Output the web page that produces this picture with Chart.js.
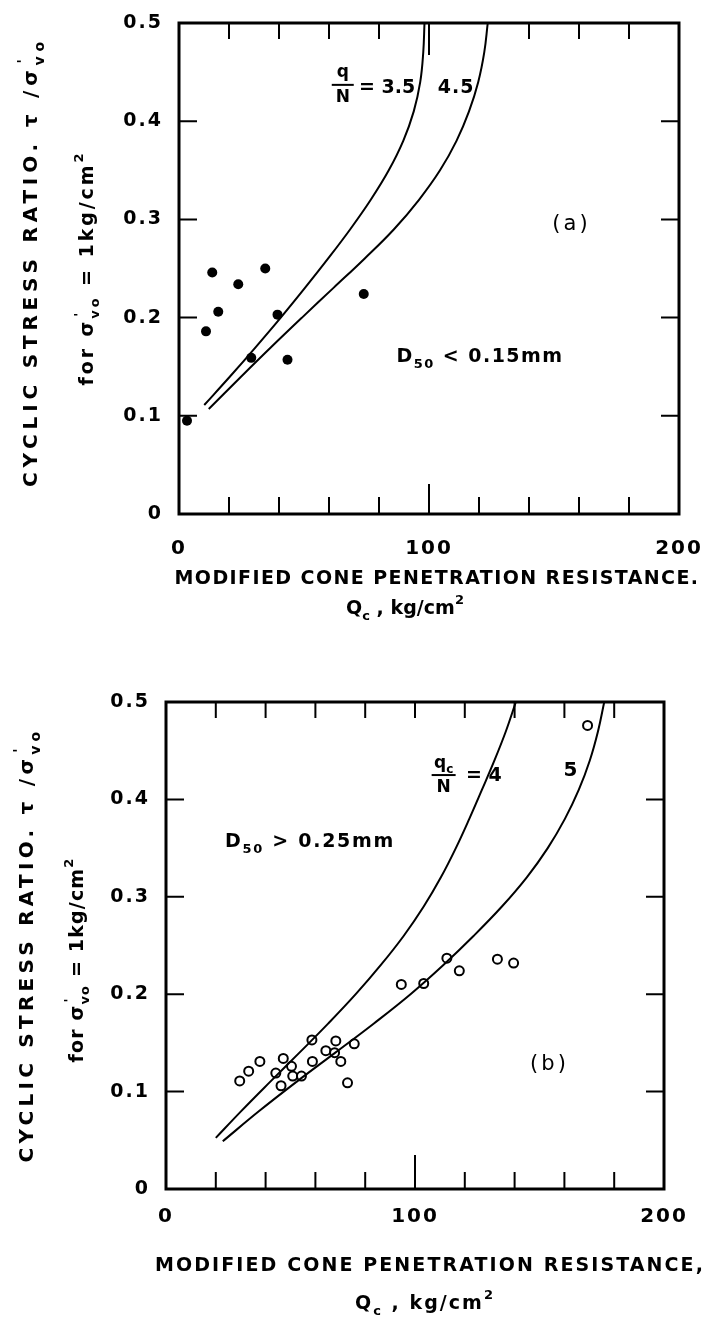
<!DOCTYPE html>
<html>
<head>
<meta charset="utf-8">
<title>Cyclic stress ratio vs modified cone resistance</title>
<script src="https://cdn.jsdelivr.net/npm/chart.js@4.4.1/dist/chart.umd.min.js"></script>
<style>
  html, body { margin: 0; padding: 0; background: #fff; }
  #wrap { position: relative; width: 718px; height: 1319px; overflow: hidden; }
  canvas { position: absolute; left: 0; }
  #chart-a { top: 0; }
  #chart-b { top: 640px; }
</style>
</head>
<body>
<div id="wrap">
  <canvas id="chart-a" width="718" height="640"></canvas>
  <canvas id="chart-b" width="718" height="679"></canvas>
</div>
<script>
// (a) silty sands, D50 < 0.15mm  -- q/N = 3.5 and 4.5 bounds, filled dots
const aCurve35X = [10.1, 20.4, 30.7, 40.7, 50.3, 59.6, 68.5, 76.7, 83.9, 89.7, 93.9, 96.5, 97.7, 98.2];
const aCurve35Y = [0.111, 0.14, 0.17, 0.2, 0.23, 0.26, 0.29, 0.32, 0.35, 0.38, 0.41, 0.44, 0.47, 0.5];
const aCurve45X = [11.9, 24.9, 36.9, 49.2, 61.7, 74.2, 86.0, 96.0, 104.4, 111.0, 116.0, 119.7, 122.1, 123.5];
const aCurve45Y = [0.107, 0.14, 0.17, 0.2, 0.23, 0.26, 0.29, 0.32, 0.35, 0.38, 0.41, 0.44, 0.47, 0.5];
const aDotX = [3.2, 10.8, 13.3, 15.7, 23.7, 28.9, 34.5, 39.4, 43.4, 73.9];
const aDotY = [0.095, 0.186, 0.246, 0.206, 0.234, 0.159, 0.25, 0.203, 0.157, 0.224];

// (b) clean sands, D50 > 0.25mm  -- qc/N = 4 and 5 bounds, open circles
const bCurveY = [0.08, 0.11, 0.14, 0.17, 0.2, 0.23, 0.26, 0.29, 0.32, 0.35, 0.38, 0.41, 0.44, 0.47, 0.5];
const bCurve4X = [20, 30.2, 41.8, 53.6, 65.2, 76.2, 86.3, 95.5, 103.5, 110.4, 116.4, 121.8, 126.9, 131.9, 136.5, 140.5];
const bCurve4Y = [0.0525, ...bCurveY];
const bCurve5X = [22.8, 37.4, 52.4, 68.0, 83.5, 98.2, 111.4, 123.6, 134.9, 144.9, 153.3, 160.2, 165.8, 170.2, 173.5, 176.0];
const bCurve5Y = [0.049, ...bCurveY];
const bCircleX = [29.6, 33.2, 37.7, 44.1, 47.1, 46.2, 50.4, 50.9, 54.4, 58.6, 58.8, 64.2,
                  68.2, 67.7, 70.2, 75.6, 72.9, 94.5, 103.5, 112.8, 117.8, 133.1, 139.6, 169.3];
const bCircleY = [0.111, 0.121, 0.131, 0.119, 0.134, 0.106, 0.126, 0.116, 0.116, 0.153, 0.131, 0.142,
                  0.152, 0.14, 0.131, 0.149, 0.109, 0.21, 0.211, 0.237, 0.224, 0.236, 0.232, 0.476];

// axis ranges and inner tick marks
const xRange = [0, 200];
const yRange = [0, 0.5];
const xMinorTicks = [20, 40, 60, 80, 100, 120, 140, 160, 180];
const yMinorTicks = [0.1, 0.2, 0.3, 0.4];

const FONT = '"DejaVu Sans", sans-serif';

function pts(xs, ys) {
  return xs.map((x, i) => ({ x, y: ys[i] }));
}

function pieceFont(kind, size, weight) {
  const s = kind ? Math.round(size * 0.7) : size;
  return `${weight} ${s}px ${FONT}`;
}

// pieces: [text, kind]; kind '' normal, 'sub', 'sup', 'over' (raised, no advance)
function drawRich(ctx, pieces, x, y, size, o = {}) {
  const weight = o.weight || 'bold';
  ctx.save();
  ctx.letterSpacing = '0px';
  const widths = pieces.map(([t, k]) => {
    ctx.font = pieceFont(k, size, weight);
    return ctx.measureText(t).width;
  });
  let natural = 0, n = 0;
  pieces.forEach(([t, k], i) => {
    if (k !== 'over') { natural += widths[i]; n += t.length; }
  });
  const spacing = o.width ? (o.width - natural) / n : (o.spacing || 0);
  const total = natural + spacing * n;
  ctx.translate(x, y);
  if (o.rotate) ctx.rotate(o.rotate);
  let cx = o.align === 'center' ? -total / 2 : o.align === 'right' ? -total : 0;
  ctx.letterSpacing = spacing + 'px';
  ctx.textBaseline = 'middle';
  ctx.textAlign = 'left';
  ctx.fillStyle = '#000';
  pieces.forEach(([t, k], i) => {
    ctx.font = pieceFont(k, size, weight);
    const dy = k === 'sub' ? size * 0.4 : (k === 'sup' || k === 'over') ? -size * 0.42 : 0;
    ctx.fillText(t, cx + (k === 'over' ? 2 : 0), dy);
    if (k !== 'over') cx += widths[i] + spacing * t.length;
  });
  ctx.restore();
}

// stacked fraction label: top over a bar over bottom
function drawFrac(ctx, top, bottom, cx, cy, size, half) {
  drawRich(ctx, top, cx, cy - size * 0.7, size, { align: 'center' });
  drawRich(ctx, bottom, cx, cy + size * 0.72, size, { align: 'center' });
  ctx.save();
  ctx.lineWidth = 2;
  ctx.beginPath();
  ctx.moveTo(cx - half, cy);
  ctx.lineTo(cx + half, cy);
  ctx.stroke();
  ctx.restore();
}

function decor(spec) {
  return {
    id: 'decor',
    beforeDraw(chart) {
      chart.ctx.letterSpacing = '2px';
    },
    afterDraw(chart) {
      const { ctx, chartArea: a, scales: { x, y } } = chart;
      ctx.save();
      ctx.letterSpacing = '0px';
      ctx.strokeStyle = '#000';
      ctx.lineWidth = 3;
      ctx.strokeRect(a.left, a.top, a.right - a.left, a.bottom - a.top);

      ctx.lineWidth = 2;
      ctx.beginPath();
      for (const v of spec.bottomTicks) {
        const px = x.getPixelForValue(v);
        ctx.moveTo(px, a.bottom);
        ctx.lineTo(px, a.bottom - (v === 100 ? spec.longBottom : 17));
      }
      for (const v of spec.topTicks) {
        const px = x.getPixelForValue(v);
        ctx.moveTo(px, a.top);
        ctx.lineTo(px, a.top + (v === 100 ? spec.longTop : 16));
      }
      for (const v of yMinorTicks) {
        const py = y.getPixelForValue(v);
        ctx.moveTo(a.left, py);
        ctx.lineTo(a.left + 18, py);
        ctx.moveTo(a.right, py);
        ctx.lineTo(a.right - 18, py);
      }
      ctx.stroke();
      ctx.restore();

      spec.text(ctx, x, y);
    },
  };
}

function makeChart(id, box, datasets, spec) {
  const canvas = document.getElementById(id);
  return new Chart(canvas, {
    type: 'scatter',
    data: { datasets },
    options: {
      responsive: false,
      animation: false,
      events: [],
      layout: { padding: { left: 0, top: box.top, right: canvas.width - box.right, bottom: 0 } },
      plugins: { legend: { display: false }, tooltip: { enabled: false } },
      scales: {
        x: {
          type: 'linear', min: xRange[0], max: xRange[1],
          grid: { display: false }, border: { display: false },
          ticks: {
            stepSize: 100, padding: box.xPad, color: '#000', maxRotation: 0,
            font: { family: FONT, size: 20, weight: 'bold' },
            callback: v => String(v),
          },
          afterFit: s => { s.height = canvas.height - box.bottom; },
        },
        y: {
          type: 'linear', min: yRange[0], max: yRange[1],
          grid: { display: false }, border: { display: false },
          ticks: {
            stepSize: 0.1, padding: 8, color: '#000',
            font: { family: FONT, size: 19, weight: 'bold' },
            callback: v => (v === 0 ? '0' : v.toFixed(1)),
          },
          afterFit: s => { s.width = box.left; },
        },
      },
    },
    plugins: [decor(spec)],
  });
}

function curve(xs, ys) {
  return {
    data: pts(xs, ys), showLine: true, pointRadius: 0,
    borderColor: '#000', borderWidth: 2, tension: 0.4, fill: false,
  };
}

const sigmaVo = [['σ', ''], ["'", 'over'], ['vo', 'sub']];

// ---- (a)
makeChart('chart-a', { left: 179, right: 679, top: 23, bottom: 514, xPad: 15 }, [
  curve(aCurve35X, aCurve35Y),
  curve(aCurve45X, aCurve45Y),
  {
    data: pts(aDotX, aDotY), pointRadius: 5, pointBackgroundColor: '#000',
    pointBorderColor: '#000', pointBorderWidth: 0, showLine: false,
  },
], {
  bottomTicks: xMinorTicks, topTicks: [20, 40, 60, 80, 100, 140, 160, 180],
  longBottom: 30, longTop: 32,
  text(ctx, x, y) {
    drawRich(ctx, [['CYCLIC STRESS RATIO. τ /', ''], ...sigmaVo], 32, 262, 20,
      { rotate: -Math.PI / 2, align: 'center', width: 450 });
    drawRich(ctx, [['for ', ''], ...sigmaVo, [' = 1kg/cm', ''], ['2', 'sup']], 88, 268, 19,
      { rotate: -Math.PI / 2, align: 'center', width: 235 });
    drawRich(ctx, [['MODIFIED CONE PENETRATION RESISTANCE.', '']], 437, 579, 19,
      { align: 'center', width: 525 });
    drawRich(ctx, [['Q', ''], ['c', 'sub'], [' , kg/cm', ''], ['2', 'sup']], 405, 609, 19,
      { align: 'center', width: 118 });

    drawFrac(ctx, [['q', '']], [['N', '']], x.getPixelForValue(65.5), y.getPixelForValue(0.437), 17, 11);
    drawRich(ctx, [['= 3.5', '']], x.getPixelForValue(72), y.getPixelForValue(0.434), 19, { spacing: 0 });
    drawRich(ctx, [['4.5', '']], x.getPixelForValue(103.5), y.getPixelForValue(0.434), 19, { spacing: 1 });
    drawRich(ctx, [['(a)', '']], x.getPixelForValue(157), y.getPixelForValue(0.295), 21,
      { align: 'center', spacing: 3, weight: 'normal' });
    drawRich(ctx, [['D', ''], ['50', 'sub'], [' < 0.15mm', '']], x.getPixelForValue(87), y.getPixelForValue(0.16), 19,
      { width: 167 });
  },
});

// ---- (b)
makeChart('chart-b', { left: 166, right: 664, top: 62, bottom: 549, xPad: 8 }, [
  curve(bCurve4X, bCurve4Y),
  curve(bCurve5X, bCurve5Y),
  {
    data: pts(bCircleX, bCircleY), pointRadius: 4.5, pointBackgroundColor: '#fff',
    pointBorderColor: '#000', pointBorderWidth: 2, showLine: false,
  },
], {
  bottomTicks: xMinorTicks, topTicks: xMinorTicks,
  longBottom: 34, longTop: 16,
  text(ctx, x, y) {
    drawRich(ctx, [['CYCLIC STRESS RATIO. τ /', ''], ...sigmaVo], 28, 305, 20,
      { rotate: -Math.PI / 2, align: 'center', width: 435 });
    drawRich(ctx, [['for ', ''], ...sigmaVo, [' = 1kg/cm', ''], ['2', 'sup']], 78, 320, 19,
      { rotate: -Math.PI / 2, align: 'center', width: 205 });
    drawRich(ctx, [['MODIFIED CONE PENETRATION RESISTANCE,', '']], 430, 626, 19,
      { align: 'center', width: 550 });
    drawRich(ctx, [['Q', ''], ['c', 'sub'], [' , kg/cm', ''], ['2', 'sup']], 425, 664, 19,
      { align: 'center', width: 140 });

    drawFrac(ctx, [['q', ''], ['c', 'sub']], [['N', '']], x.getPixelForValue(111.5), y.getPixelForValue(0.425), 17, 12);
    drawRich(ctx, [['= 4', '']], x.getPixelForValue(120.5), y.getPixelForValue(0.424), 19, { spacing: 0 });
    drawRich(ctx, [['5', '']], x.getPixelForValue(162.4), y.getPixelForValue(0.429), 20, { align: 'center' });
    drawRich(ctx, [['(b)', '']], x.getPixelForValue(154), y.getPixelForValue(0.128), 21,
      { align: 'center', spacing: 3, weight: 'normal' });
    drawRich(ctx, [['D', ''], ['50', 'sub'], [' > 0.25mm', '']], x.getPixelForValue(23.7), y.getPixelForValue(0.356), 19,
      { width: 170 });
  },
});
</script>
</body>
</html>
